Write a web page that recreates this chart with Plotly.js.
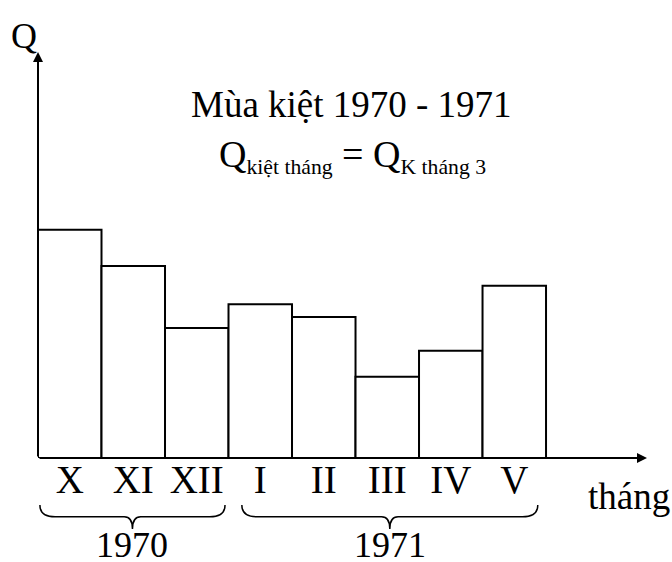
<!DOCTYPE html>
<html>
<head>
<meta charset="utf-8">
<script src="https://cdn.plot.ly/plotly-3.0.1.min.js"></script>
<style>html,body{margin:0;padding:0;background:#fff;}#chart{width:672px;height:562px;}</style>
</head>
<body>
<div id="chart"></div>
<script>
// Data (arbitrary discharge units)
var months = ['X', 'XI', 'XII', 'I', 'II', 'III', 'IV', 'V'];
var discharge = [56.2, 47.3, 32.0, 37.9, 34.7, 20.0, 26.4, 42.4];
var yearLabels = ['1970', '1971'];
var yearFirstMonth = [0, 3];   // index of first month in each year group
var yearLastMonth = [2, 7];    // index of last month in each year group

var FONT = 'Liberation Serif, Times New Roman, serif';
var yMax = 100;
var xMax = 9.09;

var trace = {
  type: 'bar',
  x: months.map(function (m, i) { return i; }),
  y: discharge,
  width: 1,
  marker: { color: '#ffffff', line: { color: '#000000', width: 2 } },
  hoverinfo: 'skip',
  cliponaxis: false
};

// braces under the month groups
var braceInsetL = [0.03, 0.21];
var braceInsetR = [0.055, 0.13];
var yTop = -0.116, yMid = -0.145, yPt = -0.175;
var shapes = [];
var annotations = [];
yearLabels.forEach(function (lab, g) {
  var x0 = yearFirstMonth[g] - 0.5 + braceInsetL[g];
  var x1 = yearLastMonth[g] + 0.5 - braceInsetR[g];
  var xm = (x0 + x1) / 2;
  var r = 0.24, rm = 0.13;
  var p = 'M ' + x0 + ',' + yTop +
    ' Q ' + x0 + ',' + yMid + ' ' + (x0 + r) + ',' + yMid +
    ' L ' + (xm - rm) + ',' + yMid +
    ' Q ' + xm + ',' + yMid + ' ' + xm + ',' + yPt +
    ' Q ' + xm + ',' + yMid + ' ' + (xm + rm) + ',' + yMid +
    ' L ' + (x1 - r) + ',' + yMid +
    ' Q ' + x1 + ',' + yMid + ' ' + x1 + ',' + yTop;
  shapes.push({ type: 'path', xref: 'x', yref: 'paper', path: p,
    line: { color: '#000', width: 1.5 } });
  annotations.push({ xref: 'x', yref: 'paper', x: xm, y: -0.214, text: lab,
    showarrow: false, font: { family: FONT, size: 36, color: '#000' },
    xanchor: 'center', yanchor: 'middle' });
});

// axis arrows
annotations.push({ xref: 'x', yref: 'y', axref: 'x', ayref: 'y',
  x: xMax, y: 0, ax: -0.5, ay: 0, showarrow: true, arrowhead: 2,
  arrowsize: 1, arrowwidth: 2, arrowcolor: '#000', text: '' });
annotations.push({ xref: 'x', yref: 'y', axref: 'x', ayref: 'y',
  x: -0.5, y: yMax, ax: -0.5, ay: 0, showarrow: true, arrowhead: 2,
  arrowsize: 1, arrowwidth: 2, arrowcolor: '#000', text: '' });

// axis names
annotations.push({ xref: 'paper', yref: 'paper', x: -0.023, y: 1.04,
  text: 'Q', showarrow: false, xanchor: 'center', yanchor: 'middle',
  font: { family: FONT, size: 36, color: '#000' } });
annotations.push({ xref: 'paper', yref: 'paper', x: 0.97, y: -0.095,
  text: 'tháng', showarrow: false, xanchor: 'center', yanchor: 'middle',
  font: { family: FONT, size: 37, color: '#000' } });

// title lines
annotations.push({ xref: 'paper', yref: 'paper', x: 0.514, y: 0.87,
  text: 'Mùa kiệt 1970 - 1971', showarrow: false, xanchor: 'center', yanchor: 'middle',
  font: { family: FONT, size: 37, color: '#000' } });
annotations.push({ xref: 'paper', yref: 'paper', x: 0.517, y: 0.745,
  text: '<span style="font-size:38px">Q</span><sub>kiệt tháng</sub><span style="font-size:38px"> = Q</span><sub>K tháng 3</sub>',
  showarrow: false, xanchor: 'center', yanchor: 'middle',
  font: { family: FONT, size: 31, color: '#000' } });

var layout = {
  width: 672, height: 562,
  margin: { l: 38, r: 25, t: 52, b: 104, pad: 0 },
  paper_bgcolor: '#fff', plot_bgcolor: '#fff',
  showlegend: false,
  bargap: 0,
  xaxis: {
    type: 'linear', range: [-0.5, xMax],
    tickmode: 'array', tickvals: months.map(function (m, i) { return i; }), ticktext: months,
    showgrid: false, zeroline: false, showline: false, ticks: '',
    tickfont: { family: FONT, size: 39, color: '#000' },
    ticklabelstandoff: -5,
    fixedrange: true
  },
  yaxis: {
    range: [0, yMax], showgrid: false, zeroline: false, showline: false,
    showticklabels: false, ticks: '', fixedrange: true
  },
  shapes: shapes,
  annotations: annotations
};

Plotly.newPlot('chart', [trace], layout, { staticPlot: true, displayModeBar: false });
</script>
</body>
</html>
